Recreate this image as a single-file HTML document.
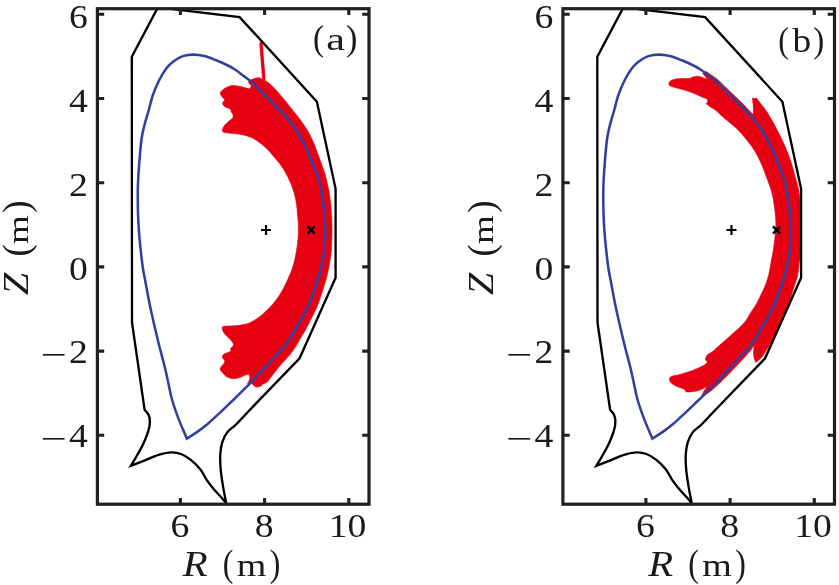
<!DOCTYPE html>
<html><head><meta charset="utf-8"><title>Figure</title>
<style>
html,body{margin:0;padding:0;background:#fff}
svg{display:block}
text{font-family:"Liberation Serif",serif;fill:#1a1a1a}
.t{font-size:34.3px}
.l{font-size:36px}
</style></head><body>
<svg width="839" height="585" viewBox="0 0 839 585">
<rect width="839" height="585" fill="#fff"/>
<defs><clipPath id="cp"><rect x="97.4" y="8.7" width="271.6" height="497.0"/></clipPath></defs>
<g transform="translate(0,0)">
<path d="M249.3 89.0C249.9 87.9 251.3 86.8 251.1 85.7C250.9 84.6 248.0 83.3 248.3 82.2C248.6 81.1 251.1 79.8 252.8 79.1C254.5 78.3 256.8 77.6 258.5 77.7C260.2 77.8 261.7 78.8 263.3 79.6C264.9 80.4 266.2 81.0 268.1 82.5C270.0 84.0 272.4 86.2 274.8 88.7C277.2 91.2 279.9 94.4 282.4 97.3C284.8 100.2 287.1 103.2 289.5 106.2C291.9 109.2 294.2 112.0 296.6 115.0C299.0 118.0 301.5 121.4 303.6 124.5C305.7 127.6 307.6 130.6 309.3 133.7C311.0 136.8 312.4 140.0 313.8 143.3C315.2 146.6 316.4 149.9 317.7 153.5C319.0 157.1 320.5 161.2 321.7 164.6C322.9 168.0 324.1 170.9 325.0 174.1C325.9 177.3 326.7 180.5 327.4 183.7C328.1 186.9 328.8 190.1 329.3 193.3C329.8 196.5 330.3 199.9 330.6 202.8C330.9 205.8 331.1 208.2 331.3 211.0C331.5 213.8 331.7 215.6 331.8 219.4C331.9 223.2 332.1 228.9 332.0 233.7C331.9 238.5 331.7 244.2 331.5 248.1C331.3 252.0 331.0 254.2 330.6 257.0C330.2 259.8 330.0 261.4 329.4 264.6C328.8 267.8 328.0 272.3 327.0 276.1C326.0 279.9 324.8 283.8 323.6 287.5C322.5 291.2 321.4 294.8 320.1 298.5C318.8 302.2 317.3 306.2 315.8 309.6C314.3 313.0 312.6 315.9 311.0 319.1C309.4 322.3 307.9 325.5 306.2 328.7C304.4 331.9 302.4 335.1 300.5 338.3C298.6 341.5 296.6 345.1 294.8 347.8C293.1 350.5 291.5 352.6 290.0 354.5C288.5 356.4 287.5 357.3 285.6 359.4C283.8 361.5 281.1 364.3 278.9 367.0C276.7 369.7 274.1 373.1 272.2 375.6C270.3 378.1 268.9 380.4 267.4 381.8C265.9 383.2 264.4 383.3 263.3 384.0C262.2 384.7 261.8 385.6 260.7 386.1C259.6 386.6 258.0 387.2 256.9 387.1C255.8 387.0 255.0 386.3 254.0 385.7C253.0 385.1 252.2 383.6 251.1 383.3C250.0 383.0 248.6 383.6 247.3 383.8C247.9 382.7 248.8 381.6 249.2 380.4C249.6 379.2 249.8 377.6 249.7 376.6C249.5 375.6 248.8 375.0 248.3 374.2C247.3 374.5 246.8 374.6 245.4 375.1C244.0 375.7 241.8 376.9 239.7 377.5C237.6 378.1 235.1 378.8 233.0 378.7C230.9 378.6 228.8 377.9 227.2 377.1C225.6 376.3 224.6 374.9 223.4 373.7C222.2 372.5 220.7 371.0 220.3 369.9C219.9 368.8 220.3 368.2 221.0 367.0C221.7 365.8 223.8 363.8 224.4 362.7C225.0 361.6 224.5 361.1 224.5 360.3C223.8 359.3 222.6 358.3 222.4 357.4C222.2 356.4 222.6 355.4 223.4 354.6C224.2 353.8 225.8 353.4 227.0 352.8C228.2 352.2 230.2 351.6 230.8 350.9C231.4 350.2 230.5 349.3 230.4 348.5C231.3 347.5 232.8 346.6 233.2 345.6C233.6 344.7 233.5 344.1 232.8 342.8C232.1 341.5 230.4 339.6 228.9 338.0C227.4 336.4 225.2 334.8 224.1 333.2C223.0 331.6 222.3 329.5 222.2 328.4C222.0 327.3 222.2 326.9 223.2 326.5C224.2 326.1 225.9 326.1 228.0 326.0C230.1 325.9 233.0 325.9 235.6 325.7C238.2 325.5 240.9 325.1 243.3 324.6C245.7 324.1 247.8 323.7 250.0 322.7C252.2 321.7 254.6 320.2 256.7 318.8C258.8 317.4 260.6 316.0 262.4 314.5C264.2 313.0 265.8 311.4 267.5 309.7C269.2 308.0 270.9 306.2 272.5 304.4C274.1 302.6 275.4 300.9 276.8 299.0C278.2 297.1 279.1 295.9 280.6 293.3C282.1 290.8 284.2 286.9 285.8 283.7C287.4 280.5 288.8 277.3 290.1 274.1C291.4 270.9 292.5 268.2 293.5 264.6C294.5 261.1 295.4 256.4 296.1 252.8C296.8 249.2 297.1 246.5 297.5 243.3C297.9 240.1 298.2 236.9 298.3 233.7C298.4 230.5 298.4 227.3 298.3 224.1C298.2 220.9 297.8 217.5 297.5 214.6C297.2 211.7 297.2 209.4 296.8 206.7C296.4 203.9 296.0 201.0 295.4 198.1C294.8 195.2 294.0 192.3 293.0 189.4C292.0 186.5 290.9 183.7 289.6 180.8C288.3 177.9 287.0 175.1 285.3 172.2C283.6 169.3 281.8 166.5 279.6 163.6C277.5 160.7 274.8 157.8 272.4 155.0C270.0 152.2 267.4 149.3 265.0 147.1C262.6 144.8 260.2 143.1 258.0 141.5C255.8 139.9 254.0 138.7 251.6 137.6C249.2 136.5 246.4 135.7 243.5 135.0C240.6 134.3 237.1 134.0 233.9 133.6C230.7 133.2 226.3 133.2 224.4 132.6C222.5 132.0 222.4 131.0 222.4 129.8C222.4 128.6 223.3 127.0 224.4 125.5C225.5 124.0 227.7 122.4 229.1 121.1C230.5 119.8 231.7 118.9 233.0 117.8C233.0 116.8 233.3 115.9 233.0 114.9C232.7 113.9 231.5 112.5 231.1 111.6C230.7 110.6 231.2 109.8 230.6 109.2C229.9 108.6 228.4 108.4 227.2 107.8C226.0 107.2 224.1 106.3 223.4 105.4C222.7 104.5 222.7 103.3 222.9 102.5C223.1 101.7 223.9 101.2 224.4 100.6C224.4 100.1 224.8 99.8 224.4 99.1C224.0 98.4 222.7 97.7 222.0 96.7C221.3 95.8 220.4 94.4 220.3 93.4C220.2 92.5 220.7 91.9 221.5 91.0C222.3 90.1 223.9 88.9 225.3 88.1C226.7 87.2 228.3 86.3 230.1 85.9C231.8 85.5 233.9 85.6 235.8 85.7C237.7 85.8 239.8 86.3 241.6 86.7C243.4 87.1 245.1 87.7 246.4 88.1C247.7 88.5 248.3 88.7 249.3 89.0Z" fill="#e60012" stroke="#e60012" stroke-width="0.6" stroke-linejoin="round"/>
<path d="M260.1 42.3L261.7 43.2L260.3 44.2L261.9 45.1L260.4 46.0L262.0 46.9L260.6 47.9L262.2 48.8L260.8 49.7L262.3 50.7L260.9 51.6L262.5 52.5L261.0 53.5L262.6 54.4L261.2 55.3L262.8 56.2L261.3 57.2L262.9 58.1L261.5 59.0L263.1 60.0L261.6 60.9L263.2 61.8L261.8 62.8L263.4 63.7L261.9 64.6L263.5 65.5L262.1 66.5L263.7 67.4L262.2 68.3L263.8 69.3L262.4 70.2L264.0 71.1L262.5 72.1L264.1 73.0L262.7 73.9L264.3 74.8L262.8 75.8L264.4 76.7L263.0 77.6L264.6 78.6L263.1 79.5" stroke="#e60012" stroke-width="2.2" fill="none" stroke-linejoin="round"/>
<path d="M186.8 438.6C184.1 432.1 181.2 425.6 178.7 419.1C176.2 412.6 173.7 405.5 172.0 399.5C170.3 393.5 169.6 388.6 168.3 383.0C167.1 377.4 166.1 372.4 164.5 366.0C162.9 359.6 160.7 351.7 158.9 344.5C157.1 337.3 155.5 330.2 153.8 323.0C152.2 315.8 150.4 308.2 149.0 301.0C147.6 293.8 146.2 286.2 145.1 280.0C144.0 273.8 143.4 273.1 142.3 264.0C141.2 254.9 139.3 238.0 138.6 225.7C137.8 213.4 137.7 201.1 137.8 190.2C138.0 179.2 138.8 168.7 139.5 160.0C140.2 151.3 140.8 144.2 141.7 138.0C142.6 131.8 143.8 127.7 145.0 123.0C146.2 118.3 147.5 114.7 148.8 110.0C150.1 105.3 151.2 99.9 152.9 95.0C154.6 90.1 156.7 85.1 158.9 80.7C161.1 76.3 163.7 71.9 166.1 68.7C168.5 65.5 170.5 63.6 173.3 61.5C176.1 59.4 179.4 57.2 182.8 56.1C186.2 55.0 190.0 54.6 193.6 54.6C197.2 54.6 200.6 55.2 204.4 56.1C208.2 57.0 212.7 58.9 216.3 60.3C219.9 61.7 222.8 63.0 225.9 64.5C229.0 66.0 232.0 67.5 235.0 69.5C238.0 71.5 241.3 74.2 244.1 76.3C246.9 78.4 249.2 79.8 251.8 82.0C254.4 84.2 256.7 87.0 259.4 89.7C262.1 92.4 265.3 95.5 268.1 98.3C270.9 101.1 273.7 103.8 276.4 106.5C279.1 109.2 281.5 111.7 284.1 114.6C286.7 117.5 289.4 120.9 291.8 124.1C294.2 127.3 296.5 130.5 298.5 133.7C300.5 136.9 302.1 140.0 303.8 143.3C305.5 146.6 307.1 149.9 308.6 153.5C310.2 157.1 311.7 161.2 313.1 164.6C314.5 168.0 315.8 170.9 316.9 174.1C318.0 177.3 319.0 180.5 319.8 183.7C320.6 186.9 321.1 190.1 321.7 193.3C322.2 196.5 322.7 199.9 323.1 202.8C323.5 205.8 323.8 208.2 324.1 211.0C324.4 213.8 324.6 215.6 324.8 219.4C325.0 223.2 325.4 228.9 325.3 233.7C325.2 238.5 324.9 244.0 324.5 248.1C324.1 252.2 323.6 254.9 323.0 258.0C322.4 261.1 322.0 263.2 321.2 266.5C320.4 269.8 319.5 274.2 318.4 278.0C317.3 281.8 315.8 285.7 314.5 289.4C313.2 293.1 312.2 296.6 310.8 300.0C309.4 303.4 307.8 306.4 306.2 309.6C304.6 312.8 303.2 315.9 301.5 319.1C299.8 322.3 297.6 325.5 295.7 328.7C293.8 331.9 292.1 335.1 290.0 338.3C287.9 341.5 285.8 344.8 283.3 347.8C280.8 350.8 278.4 353.0 275.1 356.5C271.8 360.0 267.3 364.9 263.6 368.9C259.9 372.9 256.6 376.7 253.1 380.4C249.6 384.1 245.8 387.6 242.5 390.9C239.2 394.2 236.8 396.6 233.0 400.2C229.2 403.8 224.1 408.8 220.0 412.6C215.9 416.4 212.2 420.1 208.5 423.2C204.8 426.3 201.6 428.8 198.0 431.4C194.4 434.0 190.5 436.2 186.8 438.6Z" fill="none" stroke="#3040a0" stroke-width="2.55" stroke-linejoin="miter"/>
<path clip-path="url(#cp)" d="M157.9 7.4L239.6 17.1L316.9 101.7L335.6 188.8L335.6 277.8L299.6 358.3L250.0 409.7C245.3 414.6 239.8 420.7 236.0 424.5C232.2 428.3 229.5 429.4 227.2 432.4C224.9 435.3 223.5 438.6 222.3 442.2C221.2 445.8 220.6 449.4 220.3 454.0C220.0 458.6 220.2 464.1 220.7 469.7C221.2 475.3 222.3 481.8 223.2 487.4C224.1 493.0 225.2 497.9 226.2 503.2C224.2 500.9 222.6 498.9 220.3 496.3C218.0 493.7 214.7 490.2 212.4 487.4C210.1 484.6 208.5 482.6 206.5 479.6C204.5 476.7 203.2 473.0 200.6 469.7C198.0 466.4 194.1 462.5 190.8 459.9C187.5 457.3 184.3 455.2 181.0 454.0C177.7 452.8 174.7 452.3 171.1 452.4C167.5 452.5 163.9 453.2 159.3 454.6C154.7 456.0 148.3 459.0 143.6 460.9C138.8 462.8 135.1 464.2 130.8 465.8C132.8 462.5 134.6 459.8 136.7 456.0C138.8 452.2 141.6 447.5 143.6 443.2C145.6 438.9 147.4 434.0 148.5 430.4C149.6 426.8 149.9 424.1 149.9 421.5C149.9 418.9 149.4 416.7 148.5 414.7C147.6 412.7 145.9 411.4 144.6 409.7L132.0 322.5L131.8 56.7L157.9 7.4Z" fill="none" stroke="#000" stroke-width="2.35" stroke-linejoin="miter" stroke-miterlimit="5"/>
<path d="M261.0 230.0h10M266.0 225.0v10" stroke="#000" stroke-width="2.2" fill="none"/>
<path d="M307.5 226.4L314.7 233.6M307.5 233.6L314.7 226.4" stroke="#000" stroke-width="2.5" fill="none"/>
<path d="M180.4 504.2v-6.3M180.4 8.7v6.3M264.6 504.2v-6.3M264.6 8.7v6.3M348.8 504.2v-6.3M348.8 8.7v6.3M97.4 435.3h6.8M369.0 435.3h-6.8M97.4 351.1h6.8M369.0 351.1h-6.8M97.4 266.9h6.8M369.0 266.9h-6.8M97.4 182.7h6.8M369.0 182.7h-6.8M97.4 98.5h6.8M369.0 98.5h-6.8M97.4 14.3h6.8M369.0 14.3h-6.8" stroke="#231f20" stroke-width="3.1" fill="none"/>
<rect x="97.4" y="8.7" width="271.6" height="495.5" fill="none" stroke="#231f20" stroke-width="3.2"/>
<text transform="translate(179.9,537.3) scale(1.1,1)" text-anchor="middle" class="t">6</text>
<text transform="translate(264.1,537.3) scale(1.1,1)" text-anchor="middle" class="t">8</text>
<text transform="translate(347.5,537.3) scale(1.1,1)" text-anchor="middle" class="t">10</text>
<text class="t"><tspan x="40.3" y="450.1" textLength="26.3" lengthAdjust="spacingAndGlyphs">−</tspan><tspan x="69.0" y="447.2" textLength="18.87" lengthAdjust="spacingAndGlyphs">4</tspan></text>
<text class="t"><tspan x="40.3" y="365.9" textLength="26.3" lengthAdjust="spacingAndGlyphs">−</tspan><tspan x="69.0" y="363.0" textLength="18.87" lengthAdjust="spacingAndGlyphs">2</tspan></text>
<text transform="translate(87.8,280.4) scale(1.1,1)" text-anchor="end" class="t">0</text>
<text transform="translate(87.8,196.2) scale(1.1,1)" text-anchor="end" class="t">2</text>
<text transform="translate(87.8,112.0) scale(1.1,1)" text-anchor="end" class="t">4</text>
<text transform="translate(87.8,27.8) scale(1.1,1)" text-anchor="end" class="t">6</text>
<text><tspan x="182.70" y="575.70" font-size="34.81" textLength="24.89" lengthAdjust="spacingAndGlyphs" font-style="italic">R</tspan> <tspan x="222.70" y="575.94" font-size="37.38" textLength="10.62" lengthAdjust="spacingAndGlyphs">(</tspan><tspan x="236.70" y="575.70" font-size="31.42" textLength="29.61" lengthAdjust="spacingAndGlyphs">m</tspan><tspan x="269.78" y="575.94" font-size="37.38" textLength="10.62" lengthAdjust="spacingAndGlyphs">)</tspan></text>
<text transform="translate(27.8,295) rotate(-90)"><tspan x="0.12" y="-0.20" font-size="34.96" textLength="22.16" lengthAdjust="spacingAndGlyphs" font-style="italic">Z</tspan> <tspan x="38.49" y="0.89" font-size="37.16" textLength="12.18" lengthAdjust="spacingAndGlyphs">(</tspan><tspan x="50.92" y="-0.20" font-size="29.51" textLength="28.87" lengthAdjust="spacingAndGlyphs">m</tspan><tspan x="81.98" y="0.89" font-size="37.16" textLength="12.70" lengthAdjust="spacingAndGlyphs">)</tspan></text>
<text><tspan x="312.94" y="50.27" font-size="36.27" textLength="11.01" lengthAdjust="spacingAndGlyphs">(</tspan><tspan x="326.22" y="49.58" font-size="31.52" textLength="18.77" lengthAdjust="spacingAndGlyphs">a</tspan><tspan x="346.10" y="50.27" font-size="36.27" textLength="11.40" lengthAdjust="spacingAndGlyphs">)</tspan></text>
</g>
<g transform="translate(465.5,0)">
<path d="M203.4 83.4C203.6 82.5 204.3 81.3 205.5 80.6C206.7 79.8 208.2 79.3 210.3 78.9C212.4 78.5 215.6 78.5 218.0 78.4C220.4 78.3 223.3 78.4 224.7 78.2C226.1 78.0 225.5 77.5 226.6 77.2C227.7 76.9 229.8 76.3 231.4 76.3C233.0 76.3 234.7 76.8 236.1 77.2C237.5 77.6 239.0 78.3 240.0 78.7C241.0 79.1 241.3 79.4 241.9 79.8C241.1 78.6 240.4 77.3 239.6 76.2C238.8 75.1 237.9 74.2 237.1 73.2C238.1 72.7 238.8 71.4 240.2 71.6C241.6 71.8 243.1 73.2 245.3 74.7C247.5 76.1 250.6 78.2 253.2 80.4C255.8 82.6 258.2 85.4 261.0 88.1C263.7 90.8 266.9 93.8 269.8 96.6C272.6 99.4 275.5 102.0 278.2 104.7C280.9 107.5 284.4 111.4 286.1 112.9C287.7 114.4 287.3 113.4 287.9 113.6C287.9 111.1 288.0 108.5 287.8 106.0C287.6 103.5 287.2 100.9 286.9 98.3L291.2 98.3C292.6 100.2 293.7 101.7 295.4 103.9C297.1 106.1 299.3 108.7 301.2 111.6C303.1 114.5 305.2 118.1 306.9 121.1C308.6 124.1 309.9 126.8 311.5 129.8C313.1 132.8 314.7 135.9 316.2 139.1C317.7 142.2 319.1 145.5 320.5 148.7C321.9 151.9 323.2 155.1 324.3 158.3C325.4 161.5 326.3 164.9 327.2 167.8C328.1 170.8 328.9 173.9 329.5 176.0C330.1 178.1 330.2 178.3 330.8 180.5C331.4 182.7 332.4 186.1 333.0 189.1C333.6 192.1 334.1 195.4 334.4 198.7C334.7 202.0 334.6 203.8 334.6 209.0C334.6 214.2 334.6 223.2 334.6 230.0C334.6 236.8 334.6 245.2 334.6 250.0C334.6 254.8 334.6 256.3 334.5 258.5C334.4 260.7 334.0 260.9 333.7 263.3C333.4 265.7 333.0 270.2 332.6 272.8C332.2 275.4 331.8 277.0 331.2 279.0C330.6 281.0 330.1 282.1 329.3 284.6C328.5 287.1 327.4 290.9 326.4 294.1C325.4 297.3 324.3 300.5 323.1 303.7C321.9 306.9 320.6 310.1 319.3 313.3C318.0 316.5 316.6 320.1 315.4 322.8C314.2 325.5 313.4 327.2 312.2 329.5C311.0 331.8 309.7 334.4 308.4 336.8C307.1 339.2 305.9 341.6 304.6 343.9C303.3 346.2 302.0 348.5 300.7 350.6C299.4 352.7 298.2 354.8 296.9 356.4C295.6 358.0 294.2 359.2 293.1 360.2C292.0 361.2 291.2 361.8 290.3 362.6C289.7 361.1 289.0 359.5 288.6 358.0C288.2 356.5 288.1 355.6 288.1 353.5C288.1 351.4 288.4 348.2 288.5 345.5C287.3 347.1 286.8 348.1 285.0 350.4C283.2 352.6 280.1 356.1 277.5 359.0C274.9 361.9 272.2 364.6 269.5 367.5C266.8 370.4 263.8 373.4 261.0 376.3C258.2 379.2 255.1 382.2 252.6 384.6C250.1 387.0 248.2 388.8 246.0 390.5C243.8 392.2 241.2 394.0 239.5 395.0C237.8 396.0 237.2 396.0 236.0 396.5C236.5 395.3 236.7 394.4 237.6 392.8C238.5 391.2 240.1 388.7 241.4 386.6C239.5 387.6 237.3 388.8 235.6 389.5C233.8 390.2 232.7 390.7 230.9 391.1C229.2 391.5 226.9 391.8 225.1 391.9C223.3 392.0 221.2 392.1 220.3 391.7C219.4 391.3 220.2 390.1 219.4 389.5C218.6 388.9 217.3 388.8 215.6 388.1C213.8 387.4 210.8 386.3 208.9 385.2C207.1 384.1 205.3 382.6 204.5 381.4C203.7 380.2 203.7 378.9 204.1 378.0C204.5 377.1 205.3 376.7 206.9 376.1C208.5 375.6 210.9 375.4 213.6 374.7C216.3 374.0 220.0 372.9 223.2 371.8C226.4 370.7 230.1 369.2 232.8 368.0C235.5 366.8 238.0 365.7 239.5 364.6C241.0 363.6 241.1 362.7 241.9 361.7C241.3 361.1 240.2 360.5 240.0 359.8C239.8 359.1 240.0 358.3 240.4 357.4C240.8 356.5 241.0 355.7 242.3 354.6C243.6 353.5 246.3 352.1 248.1 350.7C249.9 349.3 250.8 348.1 252.9 346.3C255.0 344.5 258.1 341.9 260.6 339.6C263.2 337.3 265.6 335.0 268.2 332.7C270.8 330.4 273.8 327.8 275.9 325.7C278.0 323.6 279.1 322.4 280.6 320.3C282.1 318.2 283.1 316.1 284.8 313.3C286.5 310.5 289.2 306.9 291.0 303.7C292.8 300.5 294.3 297.3 295.8 294.1C297.3 290.9 298.8 288.0 300.1 284.6C301.4 281.2 302.5 277.6 303.4 274.0C304.3 270.4 304.7 266.7 305.3 263.3C305.9 259.9 306.6 256.9 307.2 253.7C307.8 250.5 308.2 247.3 308.6 244.1C309.0 240.9 309.5 237.6 309.8 234.6C310.1 231.6 310.3 228.8 310.4 226.0C310.4 223.2 310.3 220.8 310.1 217.8C309.9 214.9 309.5 211.5 309.1 208.3C308.7 205.1 308.3 201.9 307.7 198.7C307.1 195.5 306.3 192.3 305.3 189.1C304.3 185.9 303.2 183.2 301.9 179.6C300.6 176.0 298.9 171.4 297.3 167.5C295.7 163.6 294.1 159.8 292.3 156.4C290.5 153.0 288.6 149.8 286.5 146.8C284.4 143.8 282.2 141.1 279.8 138.2C277.4 135.3 274.5 132.0 272.2 129.6C269.9 127.2 268.3 126.1 265.8 124.0C263.3 121.9 259.8 119.1 257.2 116.8C254.6 114.5 252.6 112.1 250.5 110.4C248.4 108.8 246.4 108.0 244.8 106.9C243.2 105.8 242.1 104.8 240.7 103.8L242.6 101.0C242.0 100.3 242.1 99.6 240.9 98.8C239.7 98.0 237.4 97.4 235.2 96.4C233.0 95.4 230.2 94.0 227.5 93.0C224.8 92.0 221.8 91.0 218.9 90.1C216.0 89.2 212.7 88.5 210.3 87.8C207.9 87.1 205.8 86.5 204.6 85.8C203.4 85.1 203.2 84.3 203.4 83.4Z" fill="#e60012" stroke="#e60012" stroke-width="0.6" stroke-linejoin="round"/>
<path d="M186.8 438.6C184.1 432.1 181.2 425.6 178.7 419.1C176.2 412.6 173.7 405.5 172.0 399.5C170.3 393.5 169.6 388.6 168.3 383.0C167.1 377.4 166.1 372.4 164.5 366.0C162.9 359.6 160.7 351.7 158.9 344.5C157.1 337.3 155.5 330.2 153.8 323.0C152.2 315.8 150.4 308.2 149.0 301.0C147.6 293.8 146.2 286.2 145.1 280.0C144.0 273.8 143.4 273.1 142.3 264.0C141.2 254.9 139.3 238.0 138.6 225.7C137.8 213.4 137.7 201.1 137.8 190.2C138.0 179.2 138.8 168.7 139.5 160.0C140.2 151.3 140.8 144.2 141.7 138.0C142.6 131.8 143.8 127.7 145.0 123.0C146.2 118.3 147.5 114.7 148.8 110.0C150.1 105.3 151.2 99.9 152.9 95.0C154.6 90.1 156.7 85.1 158.9 80.7C161.1 76.3 163.7 71.9 166.1 68.7C168.5 65.5 170.5 63.6 173.3 61.5C176.1 59.4 179.4 57.2 182.8 56.1C186.2 55.0 190.0 54.6 193.6 54.6C197.2 54.6 200.6 55.2 204.4 56.1C208.2 57.0 212.7 58.9 216.3 60.3C219.9 61.7 222.8 63.0 225.9 64.5C229.0 66.0 232.0 67.5 235.0 69.5C238.0 71.5 241.3 74.2 244.1 76.3C246.9 78.4 249.2 79.8 251.8 82.0C254.4 84.2 256.7 87.0 259.4 89.7C262.1 92.4 265.3 95.5 268.1 98.3C270.9 101.1 273.7 103.8 276.4 106.5C279.1 109.2 281.5 111.7 284.1 114.6C286.7 117.5 289.4 120.9 291.8 124.1C294.2 127.3 296.5 130.5 298.5 133.7C300.5 136.9 302.1 140.0 303.8 143.3C305.5 146.6 307.1 149.9 308.6 153.5C310.2 157.1 311.7 161.2 313.1 164.6C314.5 168.0 315.8 170.9 316.9 174.1C318.0 177.3 319.0 180.5 319.8 183.7C320.6 186.9 321.1 190.1 321.7 193.3C322.2 196.5 322.7 199.9 323.1 202.8C323.5 205.8 323.8 208.2 324.1 211.0C324.4 213.8 324.6 215.6 324.8 219.4C325.0 223.2 325.4 228.9 325.3 233.7C325.2 238.5 324.9 244.0 324.5 248.1C324.1 252.2 323.6 254.9 323.0 258.0C322.4 261.1 322.0 263.2 321.2 266.5C320.4 269.8 319.5 274.2 318.4 278.0C317.3 281.8 315.8 285.7 314.5 289.4C313.2 293.1 312.2 296.6 310.8 300.0C309.4 303.4 307.8 306.4 306.2 309.6C304.6 312.8 303.2 315.9 301.5 319.1C299.8 322.3 297.6 325.5 295.7 328.7C293.8 331.9 292.1 335.1 290.0 338.3C287.9 341.5 285.8 344.8 283.3 347.8C280.8 350.8 278.4 353.0 275.1 356.5C271.8 360.0 267.3 364.9 263.6 368.9C259.9 372.9 256.6 376.7 253.1 380.4C249.6 384.1 245.8 387.6 242.5 390.9C239.2 394.2 236.8 396.6 233.0 400.2C229.2 403.8 224.1 408.8 220.0 412.6C215.9 416.4 212.2 420.1 208.5 423.2C204.8 426.3 201.6 428.8 198.0 431.4C194.4 434.0 190.5 436.2 186.8 438.6Z" fill="none" stroke="#3040a0" stroke-width="2.55" stroke-linejoin="miter"/>
<path clip-path="url(#cp)" d="M157.9 7.4L239.6 17.1L316.9 101.7L335.6 188.8L335.6 277.8L299.6 358.3L250.0 409.7C245.3 414.6 239.8 420.7 236.0 424.5C232.2 428.3 229.5 429.4 227.2 432.4C224.9 435.3 223.5 438.6 222.3 442.2C221.2 445.8 220.6 449.4 220.3 454.0C220.0 458.6 220.2 464.1 220.7 469.7C221.2 475.3 222.3 481.8 223.2 487.4C224.1 493.0 225.2 497.9 226.2 503.2C224.2 500.9 222.6 498.9 220.3 496.3C218.0 493.7 214.7 490.2 212.4 487.4C210.1 484.6 208.5 482.6 206.5 479.6C204.5 476.7 203.2 473.0 200.6 469.7C198.0 466.4 194.1 462.5 190.8 459.9C187.5 457.3 184.3 455.2 181.0 454.0C177.7 452.8 174.7 452.3 171.1 452.4C167.5 452.5 163.9 453.2 159.3 454.6C154.7 456.0 148.3 459.0 143.6 460.9C138.8 462.8 135.1 464.2 130.8 465.8C132.8 462.5 134.6 459.8 136.7 456.0C138.8 452.2 141.6 447.5 143.6 443.2C145.6 438.9 147.4 434.0 148.5 430.4C149.6 426.8 149.9 424.1 149.9 421.5C149.9 418.9 149.4 416.7 148.5 414.7C147.6 412.7 145.9 411.4 144.6 409.7L132.0 322.5L131.8 56.7L157.9 7.4Z" fill="none" stroke="#000" stroke-width="2.35" stroke-linejoin="miter" stroke-miterlimit="5"/>
<path d="M261.0 230.0h10M266.0 225.0v10" stroke="#000" stroke-width="2.2" fill="none"/>
<path d="M307.5 226.4L314.7 233.6M307.5 233.6L314.7 226.4" stroke="#000" stroke-width="2.5" fill="none"/>
<path d="M180.4 504.2v-6.3M180.4 8.7v6.3M264.6 504.2v-6.3M264.6 8.7v6.3M348.8 504.2v-6.3M348.8 8.7v6.3M97.4 435.3h6.8M369.0 435.3h-6.8M97.4 351.1h6.8M369.0 351.1h-6.8M97.4 266.9h6.8M369.0 266.9h-6.8M97.4 182.7h6.8M369.0 182.7h-6.8M97.4 98.5h6.8M369.0 98.5h-6.8M97.4 14.3h6.8M369.0 14.3h-6.8" stroke="#231f20" stroke-width="3.1" fill="none"/>
<rect x="97.4" y="8.7" width="271.6" height="495.5" fill="none" stroke="#231f20" stroke-width="3.2"/>
<text transform="translate(179.9,537.3) scale(1.1,1)" text-anchor="middle" class="t">6</text>
<text transform="translate(264.1,537.3) scale(1.1,1)" text-anchor="middle" class="t">8</text>
<text transform="translate(347.5,537.3) scale(1.1,1)" text-anchor="middle" class="t">10</text>
<text class="t"><tspan x="40.3" y="450.1" textLength="26.3" lengthAdjust="spacingAndGlyphs">−</tspan><tspan x="69.0" y="447.2" textLength="18.87" lengthAdjust="spacingAndGlyphs">4</tspan></text>
<text class="t"><tspan x="40.3" y="365.9" textLength="26.3" lengthAdjust="spacingAndGlyphs">−</tspan><tspan x="69.0" y="363.0" textLength="18.87" lengthAdjust="spacingAndGlyphs">2</tspan></text>
<text transform="translate(87.8,280.4) scale(1.1,1)" text-anchor="end" class="t">0</text>
<text transform="translate(87.8,196.2) scale(1.1,1)" text-anchor="end" class="t">2</text>
<text transform="translate(87.8,112.0) scale(1.1,1)" text-anchor="end" class="t">4</text>
<text transform="translate(87.8,27.8) scale(1.1,1)" text-anchor="end" class="t">6</text>
<text><tspan x="182.70" y="575.70" font-size="34.81" textLength="24.89" lengthAdjust="spacingAndGlyphs" font-style="italic">R</tspan> <tspan x="222.70" y="575.94" font-size="37.38" textLength="10.62" lengthAdjust="spacingAndGlyphs">(</tspan><tspan x="236.70" y="575.70" font-size="31.42" textLength="29.61" lengthAdjust="spacingAndGlyphs">m</tspan><tspan x="269.78" y="575.94" font-size="37.38" textLength="10.62" lengthAdjust="spacingAndGlyphs">)</tspan></text>
<text transform="translate(27.8,295) rotate(-90)"><tspan x="0.12" y="-0.20" font-size="34.96" textLength="22.16" lengthAdjust="spacingAndGlyphs" font-style="italic">Z</tspan> <tspan x="38.49" y="0.89" font-size="37.16" textLength="12.18" lengthAdjust="spacingAndGlyphs">(</tspan><tspan x="50.92" y="-0.20" font-size="29.51" textLength="28.87" lengthAdjust="spacingAndGlyphs">m</tspan><tspan x="81.98" y="0.89" font-size="37.16" textLength="12.70" lengthAdjust="spacingAndGlyphs">)</tspan></text>
<text><tspan x="312.70" y="51.83" font-size="36.49" textLength="10.62" lengthAdjust="spacingAndGlyphs">(</tspan><tspan x="327.00" y="51.57" font-size="32.67" textLength="18.72" lengthAdjust="spacingAndGlyphs">b</tspan><tspan x="347.64" y="51.83" font-size="36.49" textLength="11.01" lengthAdjust="spacingAndGlyphs">)</tspan></text>
</g>
</svg></body></html>
